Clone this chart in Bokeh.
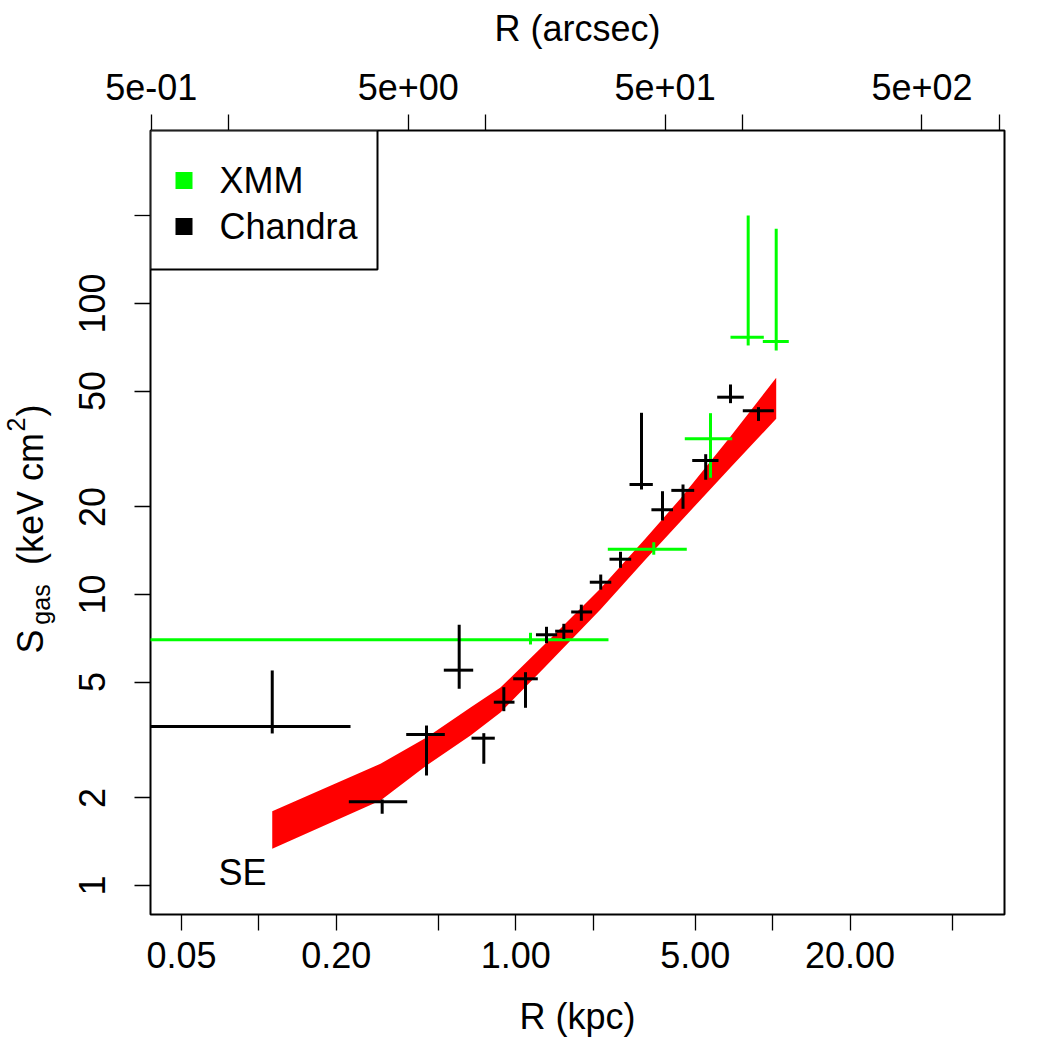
import numpy as np
from bokeh.plotting import figure
from bokeh.layouts import row
from bokeh.core.properties import value
from bokeh.models import (Range1d, LogScale, LogAxis, FixedTicker, NumeralTickFormatter,
                          ColumnDataSource, Label, BoxAnnotation)
from bokeh.embed import file_html
from bokeh.resources import INLINE

# ---- Chandra entropy profile (R in kpc, S in keV cm^2) ----
ch_r    = [0.1127, 0.3019, 0.4492, 0.6020, 0.7507, 0.8982, 1.0908, 1.317, 1.538, 1.799,
           2.141, 2.556, 3.085, 3.724, 4.476, 5.485, 6.851, 8.805]
ch_r_lo = [0.01, 0.2239, 0.3745, 0.5245, 0.6724, 0.8212, 0.9770, 1.198, 1.423, 1.643,
           1.941, 2.316, 2.771, 3.372, 4.031, 4.861, 6.081, 7.649]
ch_r_hi = [0.2273, 0.3778, 0.5293, 0.6826, 0.8284, 0.9884, 1.218, 1.449, 1.670, 1.983,
           2.353, 2.813, 3.415, 4.093, 4.948, 6.152, 7.718, 10.10]
ch_s    = [3.519, 1.940, 3.304, 5.495, 3.208, 4.265, 5.132, 7.271, 7.480, 8.708,
           11.02, 13.22, 23.88, 19.55, 22.79, 28.87, 47.64, 42.79]
ch_s_lo = [3.330, 1.763, 2.388, 4.743, 2.619, 3.972, 4.080, 6.802, 7.033, 8.122,
           10.39, 12.35, 22.95, 17.96, 19.70, 24.79, 45.44, 39.48]
ch_s_hi = [5.482, 1.975, 3.546, 7.871, 3.338, 4.802, 5.408, 7.745, 7.931, 9.226,
           11.71, 14.02, 42.11, 22.64, 23.88, 30.35, 52.68, 44.02]

# ---- XMM entropy profile ----
xmm_r    = [1.141, 3.444, 5.727, 8.028, 10.32]
xmm_r_lo = [0.01, 2.281, 4.548, 6.851, 9.152]
xmm_r_hi = [2.295, 4.630, 6.957, 9.234, 11.55]
xmm_s    = [6.988, 14.31, 34.28, 76.61, 74.04]
xmm_s_lo = [6.733, 13.70, 25.18, 71.73, 68.94]
xmm_s_hi = [7.386, 15.12, 41.98, 200.6, 180.6]

# ---- model envelope (SE sector) ----
band_r  = [0.1127, 0.2974, 0.4492, 0.6663, 0.8717, 1.305, 2.136, 3.198, 4.377, 6.852, 10.32]
band_lo = [1.337, 1.959, 2.585, 3.278, 3.931, 5.655, 8.881, 13.19, 17.82, 27.32, 40.16]
band_hi = [1.800, 2.619, 3.225, 4.090, 4.790, 6.786, 10.48, 15.57, 21.37, 34.91, 55.55]

# ---- axes ----
x_major = [0.05, 0.2, 1, 5, 20]
x_minor = [0.1, 0.5, 2, 10, 50]
y_major = [1, 2, 5, 10, 20, 50, 100]
y_minor = [200]
top_major = [0.5, 5, 50, 500]
top_minor = [1, 10, 100, 1000]
top_labels = ["5e-01", "5e+00", "5e+01", "5e+02"]

FONT = "Liberation Sans"
FS = "36px"
FS_SMALL = "25px"
GREEN = "#00FF00"

TITLE_W = 70          # strip holding the y-axis title
FW, FH = 854, 784
TOP, BOT = 130, 136   # borders above / below the frame
X0, X1 = 0.037846, 79.86
Y0, Y1 = 0.7950, 393.0

p = figure(x_axis_type="log", y_axis_type="log",
           x_range=Range1d(X0, X1), y_range=Range1d(Y0, Y1),
           frame_width=FW, frame_height=FH,
           min_border_left=150 - TITLE_W, min_border_right=46,
           min_border_top=TOP, min_border_bottom=BOT,
           output_backend="svg", toolbar_location=None,
           background_fill_color="white", border_fill_color="white")
p.xgrid.visible = False
p.ygrid.visible = False
p.outline_line_color = "black"
p.outline_line_width = 2

p.extra_x_ranges = {"arcsec": Range1d(0.4964, 1047.4)}
p.extra_x_scales = {"arcsec": LogScale()}
top = LogAxis(x_range_name="arcsec")
p.add_layout(top, "above")


def style_axis(ax):
    ax.axis_line_color = None
    ax.major_tick_out = 16
    ax.major_tick_in = 0
    ax.minor_tick_out = 16
    ax.minor_tick_in = 0
    ax.major_tick_line_color = "black"
    ax.minor_tick_line_color = "black"
    ax.major_tick_line_width = 1.3
    ax.minor_tick_line_width = 1.3
    ax.major_label_text_font = FONT
    ax.major_label_text_font_size = FS
    ax.major_label_text_color = "black"
    ax.axis_label_text_font = FONT
    ax.axis_label_text_font_size = FS
    ax.axis_label_text_font_style = "normal"
    ax.axis_label_text_color = "black"


bottom = p.below[0]
style_axis(bottom)
bottom.ticker = FixedTicker(ticks=x_major, minor_ticks=x_minor)
bottom.formatter = NumeralTickFormatter(format="0.00")
bottom.axis_label = "R (kpc)"
bottom.major_label_standoff = 11
bottom.axis_label_standoff = 25

style_axis(top)
top.ticker = FixedTicker(ticks=top_major, minor_ticks=top_minor)
top.major_label_overrides = dict(zip(top_major, top_labels))
top.axis_label = "R (arcsec)"
top.major_label_standoff = 15
top.axis_label_standoff = 22

left = p.left[0]
style_axis(left)
left.ticker = FixedTicker(ticks=y_major, minor_ticks=y_minor)
left.formatter = NumeralTickFormatter(format="0")
left.major_label_orientation = "vertical"
left.major_label_standoff = 29

# model envelope
p.varea(x=band_r, y1=band_lo, y2=band_hi, fill_color="#FF0000", fill_alpha=1.0)

# XMM error crosses
xmm = ColumnDataSource(dict(r=xmm_r, rlo=xmm_r_lo, rhi=xmm_r_hi, s=xmm_s, slo=xmm_s_lo, shi=xmm_s_hi))
p.segment(x0="rlo", y0="s", x1="rhi", y1="s", source=xmm, line_color=GREEN, line_width=3)
p.segment(x0="r", y0="slo", x1="r", y1="shi", source=xmm, line_color=GREEN, line_width=3)

# Chandra error crosses
ch = ColumnDataSource(dict(r=ch_r, rlo=ch_r_lo, rhi=ch_r_hi, s=ch_s, slo=ch_s_lo, shi=ch_s_hi))
p.segment(x0="rlo", y0="s", x1="rhi", y1="s", source=ch, line_color="black", line_width=3)
p.segment(x0="r", y0="slo", x1="r", y1="shi", source=ch, line_color="black", line_width=3)

# sector tag
p.add_layout(Label(x=0.0863, y=1.108, text="SE", text_font=FONT, text_font_size=FS,
                   text_align="center", text_baseline="middle", text_color="black"))

# legend box in the top-left corner (screen units are relative to the frame)
p.add_layout(BoxAnnotation(left=X0, top=Y1, left_units="data", top_units="data",
                           right=227, bottom=645, right_units="screen", bottom_units="screen",
                           fill_color="white", fill_alpha=1.0,
                           line_color="black", line_alpha=1.0, line_width=2))
for col, lab, yc in [(GREEN, "XMM", 734), ("black", "Chandra", 688)]:
    p.add_layout(BoxAnnotation(left=25, right=42, bottom=yc - 8.5, top=yc + 8.5,
                               left_units="screen", right_units="screen",
                               bottom_units="screen", top_units="screen",
                               fill_color=col, fill_alpha=1.0, line_color=None))
    p.add_layout(Label(x=69, y=yc, x_units="screen", y_units="screen", text=lab,
                       text_font=FONT, text_font_size=FS, text_baseline="middle",
                       text_color="black"))

# y-axis title S_gas (keV cm^2) in its own strip; the strip's frame shares the
# main frame's vertical extent, and its y range runs in page pixels (top-down).
# Each piece is placed by its centre.
t = figure(frame_width=TITLE_W, frame_height=FH,
           x_range=Range1d(0, TITLE_W), y_range=Range1d(TOP + FH, TOP),
           min_border_left=0, min_border_right=0, min_border_top=TOP, min_border_bottom=BOT,
           x_axis_location=None, y_axis_location=None,
           output_backend="svg", toolbar_location=None, outline_line_color=None,
           background_fill_color="white", border_fill_color="white")
t.xgrid.visible = False
t.ygrid.visible = False
pieces = ColumnDataSource(dict(
    x=[30, 40, 30, 15, 30],
    y=[641, 604, 498.5, 424, 410],
    text=["S", "gas", "(keV cm", "2", ")"],
    size=[FS, FS_SMALL, FS, FS_SMALL, FS],
))
t.text(x="x", y="y", text="text", source=pieces, angle=np.pi / 2,
       text_font=value(FONT), text_font_size="size", text_align="center",
       text_baseline="middle", text_color="black")

layout = row(t, p)
open("out.html", "w").write(file_html(layout, INLINE))
